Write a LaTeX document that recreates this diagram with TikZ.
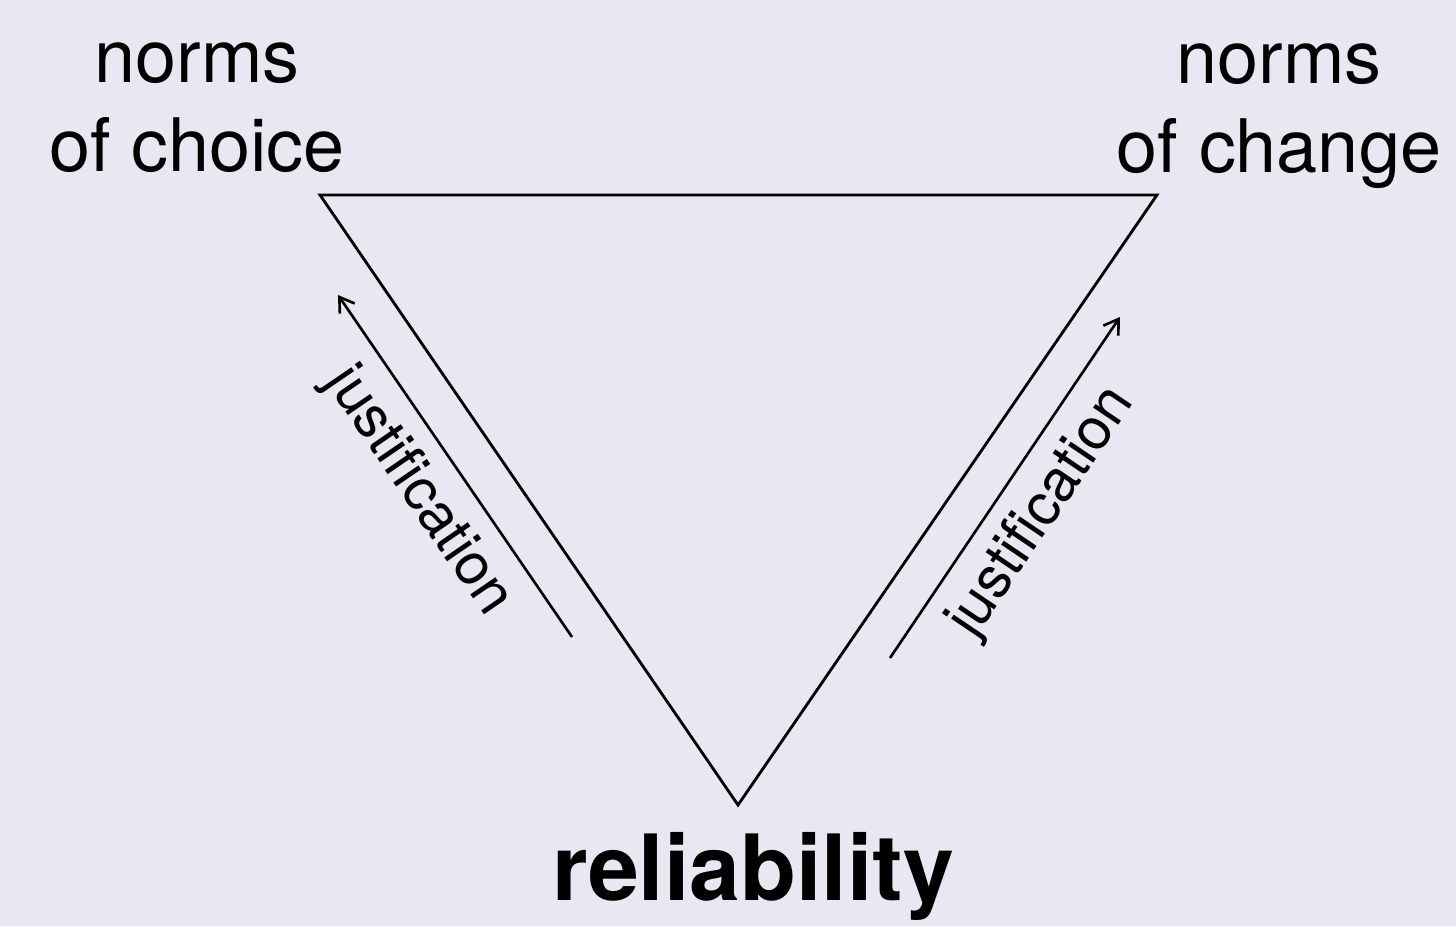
\documentclass[tikz,border=0pt]{standalone}
\usepackage{fontspec}
\setmainfont{TeX Gyre Heros}
\usetikzlibrary{arrows.meta}
\definecolor{canvas}{RGB}{232,232,243}

\begin{document}
\begin{tikzpicture}[
    corner/.style={align=center, inner sep=0pt, font=\fontsize{42}{51}\selectfont},
    edge/.style={line width=1.6pt, line join=miter},
    justarrow/.style={line width=1.5pt, -{Straight Barb[length=2.8mm, width=3.6mm]}},
    justlabel/.style={midway, sloped, below=0.32cm, inner sep=0pt, font=\fontsize{33}{40}\selectfont}
  ]
  \fill[canvas] (0,0) rectangle (29.12,18.52);
  \useasboundingbox (0,0) rectangle (29.12,18.52);

  % triangle
  \coordinate (choice) at (6.40,14.62);
  \coordinate (change) at (23.14,14.62);
  \coordinate (rel) at (14.76,2.42);
  \draw[edge] (choice) -- (change) -- (rel) -- cycle;

  % corner labels
  \node[corner, anchor=base] (choicelbl) at (3.94,15.08) {norms\\of choice};
  \node[corner, anchor=base] (changelbl) at (25.58,15.06) {norms\\of change};
  \node[anchor=base, inner sep=0pt, font=\fontsize{52}{60}\selectfont\bfseries] (rellbl) at (15.06,0.52) {reliability};

  % justification arrows
  \coordinate (ljs) at (11.44,5.78);
  \coordinate (lje) at (6.76,12.62);
  \coordinate (rjs) at (17.80,5.36);
  \coordinate (rje) at (22.40,12.18);
  \draw[justarrow] (ljs) -- (lje) node[justlabel] {justification};
  \draw[justarrow] (rjs) -- (rje) node[justlabel] {justification};
\end{tikzpicture}
\end{document}
